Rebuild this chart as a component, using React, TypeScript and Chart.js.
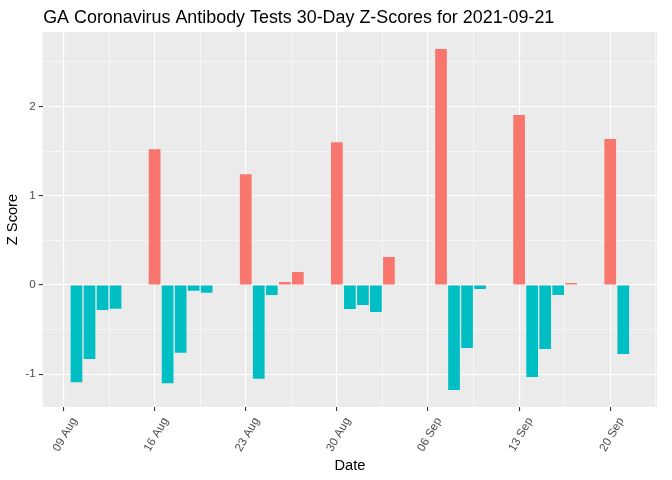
import React, { useEffect, useRef } from "react";
import { Chart, registerables } from "chart.js";

Chart.register(...registerables);

const titleText = "GA Coronavirus Antibody Tests 30-Day Z-Scores for 2021-09-21";

const dates = [
  "2021-08-10", "2021-08-11", "2021-08-12", "2021-08-13",
  "2021-08-16", "2021-08-17", "2021-08-18", "2021-08-19", "2021-08-20",
  "2021-08-23", "2021-08-24", "2021-08-25", "2021-08-26", "2021-08-27",
  "2021-08-30", "2021-08-31", "2021-09-01", "2021-09-02", "2021-09-03",
  "2021-09-07", "2021-09-08", "2021-09-09", "2021-09-10",
  "2021-09-13", "2021-09-14", "2021-09-15", "2021-09-16", "2021-09-17",
  "2021-09-20", "2021-09-21",
];

const zScores = [
  -1.09, -0.83, -0.28, -0.265,
  1.52, -1.1, -0.76, -0.064, -0.086,
  1.24, -1.05, -0.112, 0.034, 0.146,
  1.6, -0.27, -0.224, -0.302, 0.313,
  2.643, -1.176, -0.706, -0.045,
  1.904, -1.03, -0.716, -0.112, 0.022,
  1.635, -0.773,
];

const xTickDates = ["2021-08-09", "2021-08-16", "2021-08-23", "2021-08-30", "2021-09-06", "2021-09-13", "2021-09-20"];
const xTickLabels = ["09 Aug", "16 Aug", "23 Aug", "30 Aug", "06 Sep", "13 Sep", "20 Sep"];
const yTickValues = [-1, 0, 1, 2];

const POS_COLOR = "#F8766D";
const NEG_COLOR = "#00BFC4";

const dayNum = (s: string) => {
  const [y, m, d] = s.split("-").map(Number);
  return Date.UTC(y, m - 1, d) / 86400000;
};

export default function App() {
  const ref = useRef<HTMLCanvasElement | null>(null);

  useEffect(() => {
    if (!ref.current) return;
    const xs = dates.map(dayNum);
    const xLo = Math.min(...xs) - 0.45;
    const xHi = Math.max(...xs) + 0.45;
    const xPad = (xHi - xLo) * 0.05;
    const xMin = xLo - xPad;
    const xMax = xHi + xPad;
    const yLo = Math.min(0, ...zScores);
    const yHi = Math.max(0, ...zScores);
    const yPad = (yHi - yLo) * 0.05;
    const yMin = yLo - yPad;
    const yMax = yHi + yPad;

    const xMajors = xTickDates.map(dayNum);
    const xAll: { value: number; major: boolean; label: string }[] = [];
    xMajors.forEach((v, i) => {
      xAll.push({ value: v, major: true, label: xTickLabels[i] });
      const m1 = v - 3.5;
      if (m1 >= xMin && m1 <= xMax) xAll.push({ value: m1, major: false, label: "" });
      if (i === xMajors.length - 1) {
        const m2 = v + 3.5;
        if (m2 >= xMin && m2 <= xMax) xAll.push({ value: m2, major: false, label: "" });
      }
    });
    xAll.sort((a, b) => a.value - b.value);

    const yAll: { value: number; major: boolean }[] = [];
    yTickValues.forEach((v, i) => {
      yAll.push({ value: v, major: true });
      const m = v - 0.5;
      if (m >= yMin && m <= yMax) yAll.push({ value: m, major: false });
      if (i === yTickValues.length - 1 && v + 0.5 <= yMax) yAll.push({ value: v + 0.5, major: false });
    });
    yAll.sort((a, b) => a.value - b.value);

    const bgPlugin = {
      id: "panelBg",
      beforeDraw(chart: any) {
        const { ctx, chartArea } = chart;
        ctx.save();
        ctx.fillStyle = "#EBEBEB";
        ctx.fillRect(chartArea.left, chartArea.top, chartArea.right - chartArea.left, chartArea.bottom - chartArea.top);
        ctx.restore();
      },
    };
    const titlePlugin = {
      id: "ggTitle",
      afterDraw(chart: any) {
        const { ctx, chartArea } = chart;
        ctx.save();
        ctx.fillStyle = "#000000";
        ctx.font = "17.9px 'Liberation Sans', Arial, sans-serif";
        ctx.textAlign = "left";
        ctx.textBaseline = "alphabetic";
        ctx.fillText(titleText, chartArea.left + 0.5, 22.7);
        ctx.restore();
      },
    };

    const majorSet = new Set(xAll.filter((t) => t.major).map((t) => t.value));
    const yMajorSet = new Set(yTickValues);

    const chart = new Chart(ref.current, {
      type: "bar",
      data: {
        datasets: [
          {
            data: xs.map((x, i) => ({ x, y: zScores[i] })),
            backgroundColor: zScores.map((v) => (v > 0 ? POS_COLOR : NEG_COLOR)),
            borderWidth: 0,
            barPercentage: 0.9,
            categoryPercentage: 1,
          },
        ],
      },
      options: {
        animation: false,
        responsive: true,
        maintainAspectRatio: false,
        layout: { padding: { top: 32, right: 8, left: 0, bottom: 0 } },
        plugins: {
          legend: { display: false },
          title: { display: false },
          tooltip: { enabled: false },
        },
        scales: {
          x: {
            type: "linear",
            min: xMin,
            max: xMax,
            offset: false,
            border: { display: false },
            afterBuildTicks: (scale: any) => {
              scale.ticks = xAll.map((t) => ({ value: t.value }));
            },
            afterFit: (scale: any) => {
              scale.height = 73;
            },
            grid: {
              offset: false,
              color: "#FFFFFF",
              lineWidth: (c: any) => (c.tick && majorSet.has(c.tick.value) ? 1.1 : 0.55),
              tickColor: (c: any) => (c.tick && majorSet.has(c.tick.value) ? "#333333" : "rgba(0,0,0,0)"),
              tickWidth: 1.1,
              tickLength: 4,
              drawTicks: true,
            },
            ticks: {
              autoSkip: false,
              minRotation: 60,
              maxRotation: 60,
              padding: 4,
              labelOffset: 11,
              color: "#4D4D4D",
              font: { family: "'Liberation Sans', Arial, sans-serif", size: 11.7 },
              callback: (v: any) => {
                const t = xAll.find((a) => Math.abs(a.value - Number(v)) < 1e-6);
                return t ? t.label : "";
              },
            },
            title: {
              display: true,
              text: "Date",
              color: "#000000",
              font: { family: "'Liberation Sans', Arial, sans-serif", size: 14.67 },
              padding: { top: 0, bottom: 5.5 },
            },
          },
          y: {
            type: "linear",
            min: yMin,
            max: yMax,
            border: { display: false },
            afterBuildTicks: (scale: any) => {
              scale.ticks = yAll.map((t) => ({ value: t.value }));
            },
            afterFit: (scale: any) => {
              scale.width = 42.7;
            },
            grid: {
              color: "#FFFFFF",
              lineWidth: (c: any) => (c.tick && yMajorSet.has(c.tick.value) ? 1.1 : 0.55),
              tickColor: (c: any) => (c.tick && yMajorSet.has(c.tick.value) ? "#333333" : "rgba(0,0,0,0)"),
              tickWidth: 1.1,
              tickLength: 4,
              drawTicks: true,
            },
            ticks: {
              autoSkip: false,
              padding: 3,
              color: "#4D4D4D",
              font: { family: "'Liberation Sans', Arial, sans-serif", size: 11.7 },
              callback: (v: any) => (yMajorSet.has(Number(v)) ? String(v) : ""),
            },
            title: {
              display: true,
              text: "Z Score",
              color: "#000000",
              font: { family: "'Liberation Sans', Arial, sans-serif", size: 14.67 },
              padding: { top: 4.5, bottom: 0 },
            },
          },
        },
      },
      plugins: [bgPlugin, titlePlugin],
    } as any);

    return () => chart.destroy();
  }, []);

  return (
    <div style={{ position: "absolute", left: 0, top: 0, width: 672, height: 480 }}>
      <canvas ref={ref} />
    </div>
  );
}
